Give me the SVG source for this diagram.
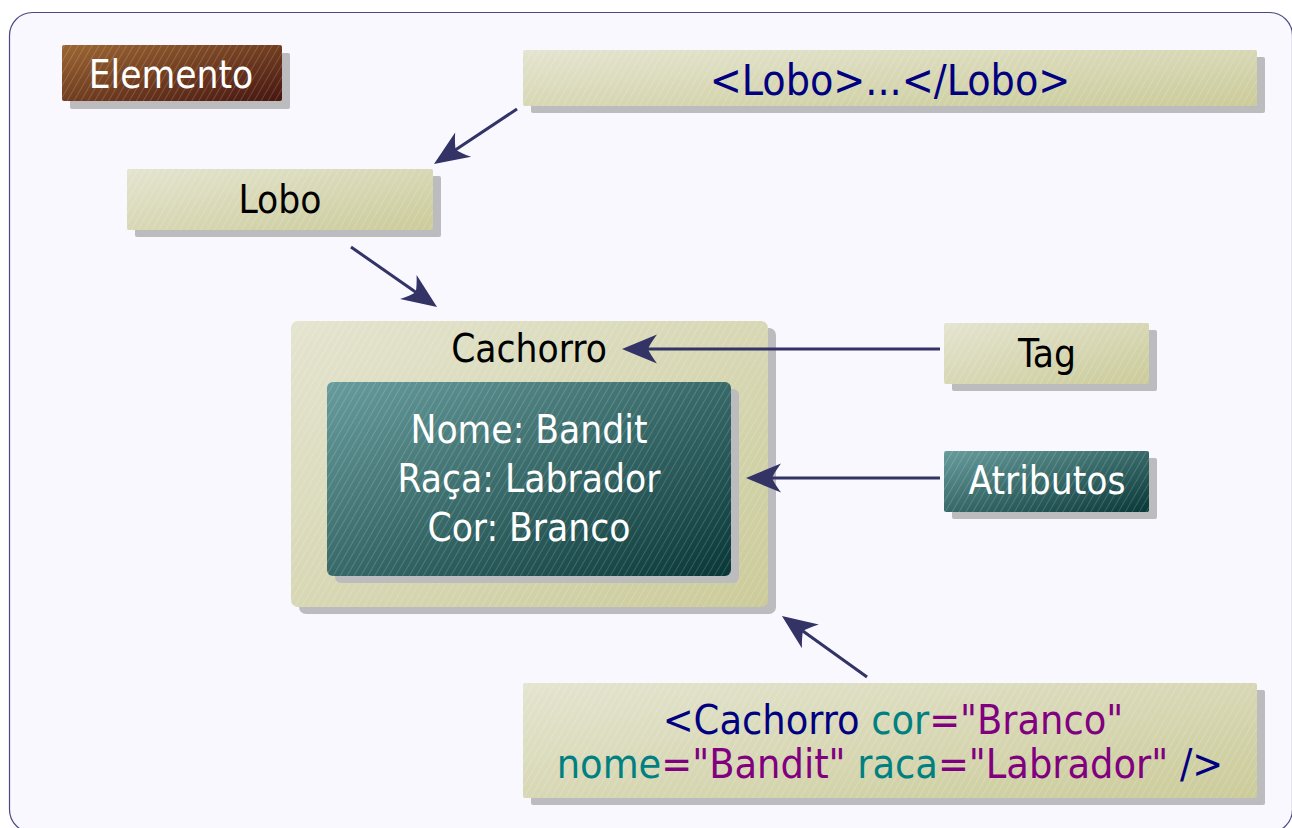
<svg xmlns="http://www.w3.org/2000/svg" width="1292" height="828" viewBox="0 0 1292 828">
<style>
text{font-family:"DejaVu Sans Condensed","DejaVu Sans",sans-serif;font-stretch:condensed;text-anchor:middle}
.shadow{fill:#bcbcbf}
.khaki{fill:url(#gKhaki)}
.teal{fill:url(#gTeal)}
.brown{fill:url(#gBrown)}
.hatch{fill:url(#hatch)}
.t38{font-size:38.5px}
.t41{font-size:41px}
.t42{font-size:42.5px}
.blk{fill:#000}
.wht{fill:#fff}
.nv{fill:#000080}
.tl{fill:#008080}
.pu{fill:#800080}
.conn{stroke:#333366;stroke-width:3;fill:none;marker-end:url(#ah)}
</style>
<defs>
<linearGradient id="gKhaki" x1="0" y1="0" x2="1" y2="1">
<stop offset="0" stop-color="#e4e4d0"/>
<stop offset="1" stop-color="#cbcb9a"/>
</linearGradient>
<linearGradient id="gTeal" x1="0" y1="0" x2="1" y2="1">
<stop offset="0" stop-color="#689c9c"/>
<stop offset="1" stop-color="#093737"/>
</linearGradient>
<linearGradient id="gBrown" x1="0" y1="0" x2="1" y2="1">
<stop offset="0" stop-color="#9c6632"/>
<stop offset="1" stop-color="#461610"/>
</linearGradient>
<pattern id="hatch" patternUnits="userSpaceOnUse" width="6" height="6" patternTransform="rotate(30)">
<rect x="0" y="0" width="1" height="6" fill="#ffffff" fill-opacity="0.16"/>
</pattern>
<marker id="ah" markerUnits="userSpaceOnUse" markerWidth="42" markerHeight="40" viewBox="-40 -20 42 40" refX="-21" refY="0" orient="auto" overflow="visible">
<path d="M0,0 L-35,-14.5 Q-28,-5 -26,0 Q-28,5 -35,14.5 Z" fill="#333366"/>
</marker>
</defs>
<rect x="0" y="0" width="1292" height="828" fill="#ffffff"/>
<rect id="frame" x="9.5" y="12.5" width="1283" height="820" rx="23" ry="23" fill="#f8f8fe" stroke="#4a4a80" stroke-width="1.2"/>

<g id="elemento">
<rect class="shadow" x="70" y="53" width="220" height="56" rx="2"/>
<rect class="brown" x="62" y="45" width="220" height="56" rx="2"/>
<rect class="hatch" x="62" y="45" width="220" height="56" rx="2"/>
<text class="t38 wht" x="171" y="88">Elemento</text>
</g>

<g id="lobo-tag">
<rect class="shadow" x="531" y="57" width="734" height="56" rx="2"/>
<rect class="khaki" x="523" y="50" width="734" height="56" rx="2"/>
<rect class="hatch" x="523" y="50" width="734" height="56" rx="2"/>
<text class="t42 nv" x="890" y="95">&lt;Lobo&gt;...&lt;/Lobo&gt;</text>
</g>

<g id="lobo">
<rect class="shadow" x="135" y="176" width="306" height="61" rx="2"/>
<rect class="khaki" x="127" y="169" width="306" height="61" rx="2"/>
<rect class="hatch" x="127" y="169" width="306" height="61" rx="2"/>
<text class="t38 blk" x="280" y="213">Lobo</text>
</g>

<g id="cachorro">
<rect class="shadow" x="299" y="328" width="477" height="286" rx="7"/>
<rect class="khaki" x="291" y="321" width="477" height="286" rx="7"/>
<rect class="hatch" x="291" y="321" width="477" height="286" rx="7"/>
<text class="t38 blk" x="529" y="362">Cachorro</text>
</g>

<g id="atributos-valores">
<rect class="shadow" x="335" y="389" width="404" height="194" rx="6"/>
<rect class="teal" x="327" y="382" width="404" height="194" rx="6"/>
<rect class="hatch" x="327" y="382" width="404" height="194" rx="6"/>
<text class="t38 wht" x="529" y="443">Nome: Bandit</text>
<text class="t38 wht" x="529" y="492">Raça: Labrador</text>
<text class="t38 wht" x="529" y="541">Cor: Branco</text>
</g>

<g id="tag">
<rect class="shadow" x="952" y="330" width="205" height="61" rx="2"/>
<rect class="khaki" x="944" y="323" width="205" height="61" rx="2"/>
<rect class="hatch" x="944" y="323" width="205" height="61" rx="2"/>
<text class="t38 blk" x="1047" y="367">Tag</text>
</g>

<g id="atributos">
<rect class="shadow" x="952" y="458" width="205" height="61" rx="2"/>
<rect class="teal" x="944" y="451" width="205" height="61" rx="2"/>
<rect class="hatch" x="944" y="451" width="205" height="61" rx="2"/>
<text class="t38 wht" x="1047" y="494">Atributos</text>
</g>

<g id="cachorro-tag">
<rect class="shadow" x="531" y="690" width="734" height="115" rx="2"/>
<rect class="khaki" x="523" y="683" width="734" height="115" rx="2"/>
<rect class="hatch" x="523" y="683" width="734" height="115" rx="2"/>
<text class="t41" x="893" y="734"><tspan class="nv">&lt;Cachorro </tspan><tspan class="tl">cor</tspan><tspan class="pu">="Branco"</tspan></text>
<text class="t41" x="890" y="778"><tspan class="tl">nome</tspan><tspan class="pu">="Bandit" </tspan><tspan class="tl">raca</tspan><tspan class="pu">="Labrador" </tspan><tspan class="nv"> /&gt;</tspan></text>
</g>

<g id="connectors">
<line class="conn" x1="517" y1="109" x2="451.5" y2="152.4"/>
<line class="conn" x1="351" y1="247" x2="419.8" y2="295"/>
<line class="conn" x1="940" y1="349" x2="643" y2="349"/>
<line class="conn" x1="940" y1="478" x2="767" y2="478"/>
<line class="conn" x1="867" y1="677" x2="799" y2="628.2"/>
</g>
</svg>
